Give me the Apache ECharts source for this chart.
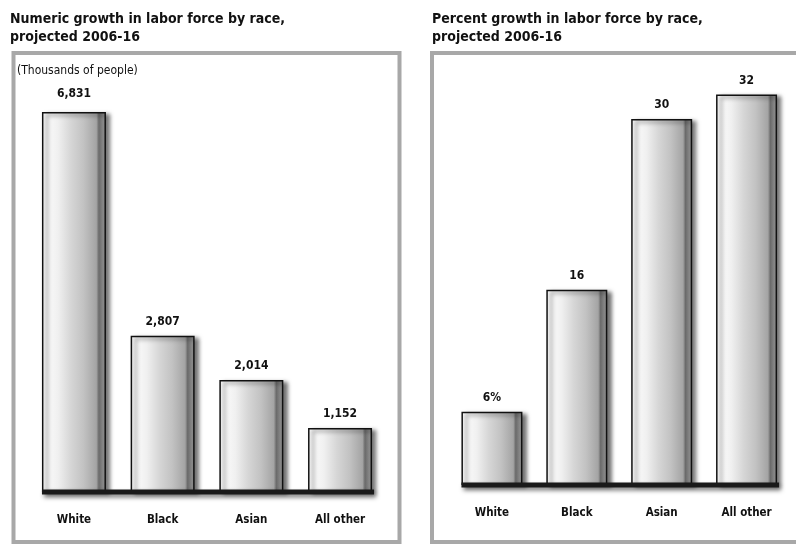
<!DOCTYPE html>
<html><head><meta charset="utf-8">
<script src="https://cdn.jsdelivr.net/npm/echarts@6/dist/echarts.min.js"></script>
<style>html,body{margin:0;padding:0;background:#fff}#c{width:796px;height:544px}</style>
</head><body><div id="c"></div>
<script>
// ---- data ----
const categories = ['White', 'Black', 'Asian', 'All other'];
const numericGrowth = [6831, 2807, 2014, 1152];
const numericLabels = ['6,831', '2,807', '2,014', '1,152'];
const percentGrowth = [6, 16, 30, 32];
const percentLabels = ['6%', '16', '30', '32'];
const leftTitle = 'Numeric growth in labor force by race,\nprojected 2006-16';
const rightTitle = 'Percent growth in labor force by race,\nprojected 2006-16';
const unitNote = '(Thousands of people)';

// ---- styles ----
const FONT = '"Liberation Sans Narrow","DejaVu Sans Condensed","Roboto Condensed",sans-serif';
const chart = echarts.init(document.getElementById('c'));

function barStyle() {
  return {
    color: new echarts.graphic.LinearGradient(0, 0, 1, 0, [
      { offset: 0, color: '#ffffff' },
      { offset: 0.25, color: '#f0f0f0' },
      { offset: 0.45, color: '#d6d6d6' },
      { offset: 0.65, color: '#c2c2c2' },
      { offset: 0.85, color: '#a4a4a4' },
      { offset: 0.89, color: '#6a6a6a' },
      { offset: 0.95, color: '#858585' },
      { offset: 1, color: '#959595' }
    ]),
    borderColor: '#111',
    borderWidth: 1.5,
    shadowColor: 'rgba(0,0,0,0.55)',
    shadowBlur: 4,
    shadowOffsetX: 4,
    shadowOffsetY: 2
  };
}

function labelStyle(texts) {
  return {
    show: true, position: 'top', distance: 8,
    fontFamily: FONT, fontSize: 12, fontWeight: 'bold', color: '#111',
    formatter: p => texts[p.dataIndex]
  };
}

const leftData = numericGrowth.map((v, i) => i === 0
  ? { value: v, label: { distance: 12 } }
  : v);

const axisLabelStyle = { fontFamily: FONT, fontSize: 11.5, fontWeight: 'bold', color: '#111', margin: 22 };
const titleStyle = { fontFamily: FONT, fontSize: 14, fontWeight: 'bold', color: '#111', lineHeight: 18 };

chart.setOption({
  animation: false,
  title: [
    { text: leftTitle, left: 10, top: 10, padding: 0, textStyle: titleStyle },
    { text: rightTitle, left: 432, top: 10, padding: 0, textStyle: titleStyle }
  ],
  graphic: [
    { id: 'box1', type: 'rect', z: 0, shape: { x: 13.5, y: 53, width: 386, height: 489 },
      style: { fill: 'none', stroke: '#a8a8a8', lineWidth: 4 } },
    { id: 'box2', type: 'rect', z: 0, shape: { x: 432, y: 53, width: 400, height: 489 },
      style: { fill: 'none', stroke: '#a8a8a8', lineWidth: 4 } },
    { id: 'note', type: 'text', left: 17, top: 65,
      style: { text: unitNote, font: '12px ' + FONT, fill: '#111' } }
  ],
  grid: [
    { left: 29.6, width: 354.8, top: 102.6, height: 389.4 },
    { left: 449.5, width: 339.5, top: 58, height: 427 }
  ],
  xAxis: [
    { type: 'category', gridIndex: 0, data: categories, axisLine: { show: false },
      axisTick: { show: false }, axisLabel: axisLabelStyle },
    { type: 'category', gridIndex: 1, data: categories, axisLine: { show: false },
      axisTick: { show: false }, axisLabel: axisLabelStyle }
  ],
  yAxis: [
    { type: 'value', gridIndex: 0, min: 0, max: 7000, show: false, splitLine: { show: false } },
    { type: 'value', gridIndex: 1, min: 0, max: 35, show: false, splitLine: { show: false } }
  ],
  series: [
    { type: 'bar', xAxisIndex: 0, yAxisIndex: 0, data: leftData, barWidth: 64,
      itemStyle: barStyle(), label: labelStyle(numericLabels) },
    { type: 'bar', xAxisIndex: 1, yAxisIndex: 1, data: percentGrowth, barWidth: 61,
      itemStyle: barStyle(), label: labelStyle(percentLabels) }
  ]
});

// baselines spanning from first bar's left edge to last bar's right edge
function baseline(id, seriesIndex, barW) {
  const a = chart.convertToPixel({ seriesIndex }, [0, 0]);
  const b = chart.convertToPixel({ seriesIndex }, [categories.length - 1, 0]);
  return {
    id, type: 'line', z: 10,
    shape: { x1: a[0] - barW / 2, y1: a[1], x2: b[0] + barW / 2 + 2, y2: a[1] },
    style: { stroke: '#1a1a1a', lineWidth: 5, shadowColor: 'rgba(0,0,0,0.5)', shadowBlur: 4, shadowOffsetY: 3, shadowOffsetX: 2 }
  };
}
chart.setOption({ graphic: [baseline('base1', 0, 64), baseline('base2', 1, 61)] });
</script>
</body></html>
